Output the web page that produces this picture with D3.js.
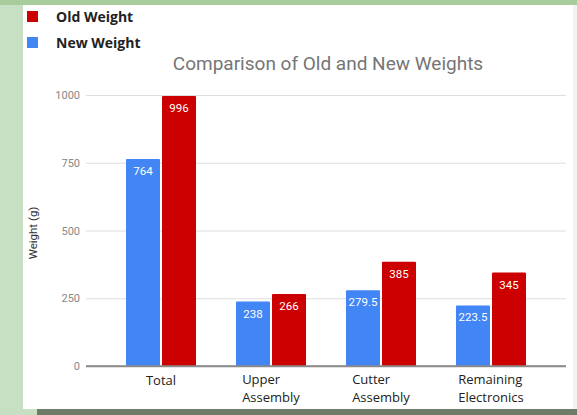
<!DOCTYPE html>
<html>
<head>
<meta charset="utf-8">
<script src="https://cdn.jsdelivr.net/npm/d3@7"></script>
<style>
	body { margin: 0; background: #c7dfc2; }
	svg { display: block; }
</style>
</head>
<body>
<svg class="svgChart"></svg>
<script>
var categories = [['Total'], ['Upper', 'Assembly'], ['Cutter', 'Assembly'], ['Remaining', 'Electronics']];
var seriesNames = ['New Weight', 'Old Weight'];
var newWeight = [764, 238, 279.5, 223.5];
var oldWeight = [996, 266, 385, 345];
var yTicks = [0, 250, 500, 750, 1000];

var width = 577, height = 415;
var colors = { 'New Weight': '#4285f4', 'Old Weight': '#cc0000' };

let svg = d3.select('svg.svgChart').attr('width', width).attr('height', height);

// backgrounds
svg.append('rect').attr('width', width).attr('height', height).style('fill', '#c7dfc2');
svg.append('rect').attr('width', width).attr('height', 5).style('fill', '#a8cc9c');
svg.append('rect').attr('x', 23).attr('y', 5).attr('width', 550).attr('height', 404).style('fill', 'white');
svg.append('rect').attr('x', 573).attr('y', 5).attr('width', 4).attr('height', 404).style('fill', '#f1f4f0');
svg.append('rect').attr('x', 37).attr('y', 409).attr('width', width - 37).attr('height', 6).style('fill', '#6d7b67');

// scales
let y = d3.scaleLinear().domain([0, 1000]).range([366, 95]);
let x0 = d3.scaleBand().domain(categories.map(d => d.join(' '))).range([86, 566]).padding(0.3636);
let x1 = d3.scaleBand().domain(seriesNames).range([0, x0.bandwidth()]).paddingInner(0.056);

// gridlines + y labels
let yaxis = svg.append('g').attr('class', 'yaxis').attr('transform', 'translate(86,0)');
yaxis.call(d3.axisLeft(y).tickValues(yTicks).tickSize(-480).tickPadding(6).tickFormat(d3.format('d')));
yaxis.select('.domain').remove();
yaxis.selectAll('.tick line').style('stroke', d => d === 0 ? '#8a8a8a' : '#dedede').style('stroke-width', d => d === 0 ? 1.5 : 1);
yaxis.selectAll('.tick text').style('fill', '#888').style('font-family', 'Roboto').style('font-size', '11px');

svg.append('text')
	.attr('transform', 'translate(37,233) rotate(-90)')
	.attr('text-anchor', 'middle')
	.style('font-family', 'Roboto').style('font-size', '11.5px').style('fill', '#333')
	.text('Weight (g)');

// bars
let rows = categories.map((c, i) => ({ key: c.join(' '), vals: [
	{ s: 'New Weight', v: newWeight[i] },
	{ s: 'Old Weight', v: oldWeight[i] }
] }));

let groups = svg.append('g').selectAll('g').data(rows).join('g')
	.attr('transform', d => 'translate(' + x0(d.key) + ',0)');
groups.selectAll('rect').data(d => d.vals).join('rect')
	.attr('x', d => x1(d.s))
	.attr('y', d => y(d.v))
	.attr('width', x1.bandwidth())
	.attr('height', d => y(0) - y(d.v))
	.attr('rx', 1)
	.style('fill', d => colors[d.s]);
groups.selectAll('text').data(d => d.vals).join('text')
	.attr('x', d => x1(d.s) + x1.bandwidth() / 2)
	.attr('y', d => y(d.v) + 16)
	.attr('text-anchor', 'middle')
	.style('font-family', 'Roboto').style('font-size', '11.5px').style('fill', 'white')
	.text(d => d.v);

// redraw baseline on top of bars
svg.append('line').attr('x1', 86).attr('x2', 566).attr('y1', y(0)).attr('y2', y(0))
	.style('stroke', '#8a8a8a').style('stroke-width', 1.5);

// category labels, one text per line, block left-aligned and centred under the group
let catGroups = svg.append('g').selectAll('g').data(categories).join('g');
catGroups.each(function(d) {
	let g = d3.select(this);
	let baseY = d.length == 1 ? 385 : 384;
	let lines = g.selectAll('text').data(d).join('text')
		.attr('y', (l, i) => baseY + i * 18)
		.style('font-family', 'Open Sans').style('font-size', '13px').style('fill', '#222')
		.text(l => l);
	let maxW = d3.max(lines.nodes(), n => n.getComputedTextLength());
	let cx = x0(d.join(' ')) + x0.bandwidth() / 2;
	lines.attr('x', cx - maxW / 2);
});

// title
svg.append('text')
	.attr('x', 328).attr('y', 70)
	.attr('text-anchor', 'middle')
	.style('font-family', 'Roboto').style('font-size', '19px').style('fill', '#757575')
	.text('Comparison of Old and New Weights');

// legend
let legendItems = ['Old Weight', 'New Weight'];
let legend = svg.append('g').selectAll('g').data(legendItems).join('g')
	.attr('transform', (d, i) => 'translate(27,' + (11 + i * 26) + ')');
legend.append('rect').attr('width', 11).attr('height', 11).style('fill', d => colors[d]);
legend.append('text').attr('x', 29).attr('y', 10.5)
	.style('font-family', 'Open Sans').style('font-weight', 'bold').style('font-size', '14px').style('fill', '#222')
	.text(d => d);
</script>
</body>
</html>
